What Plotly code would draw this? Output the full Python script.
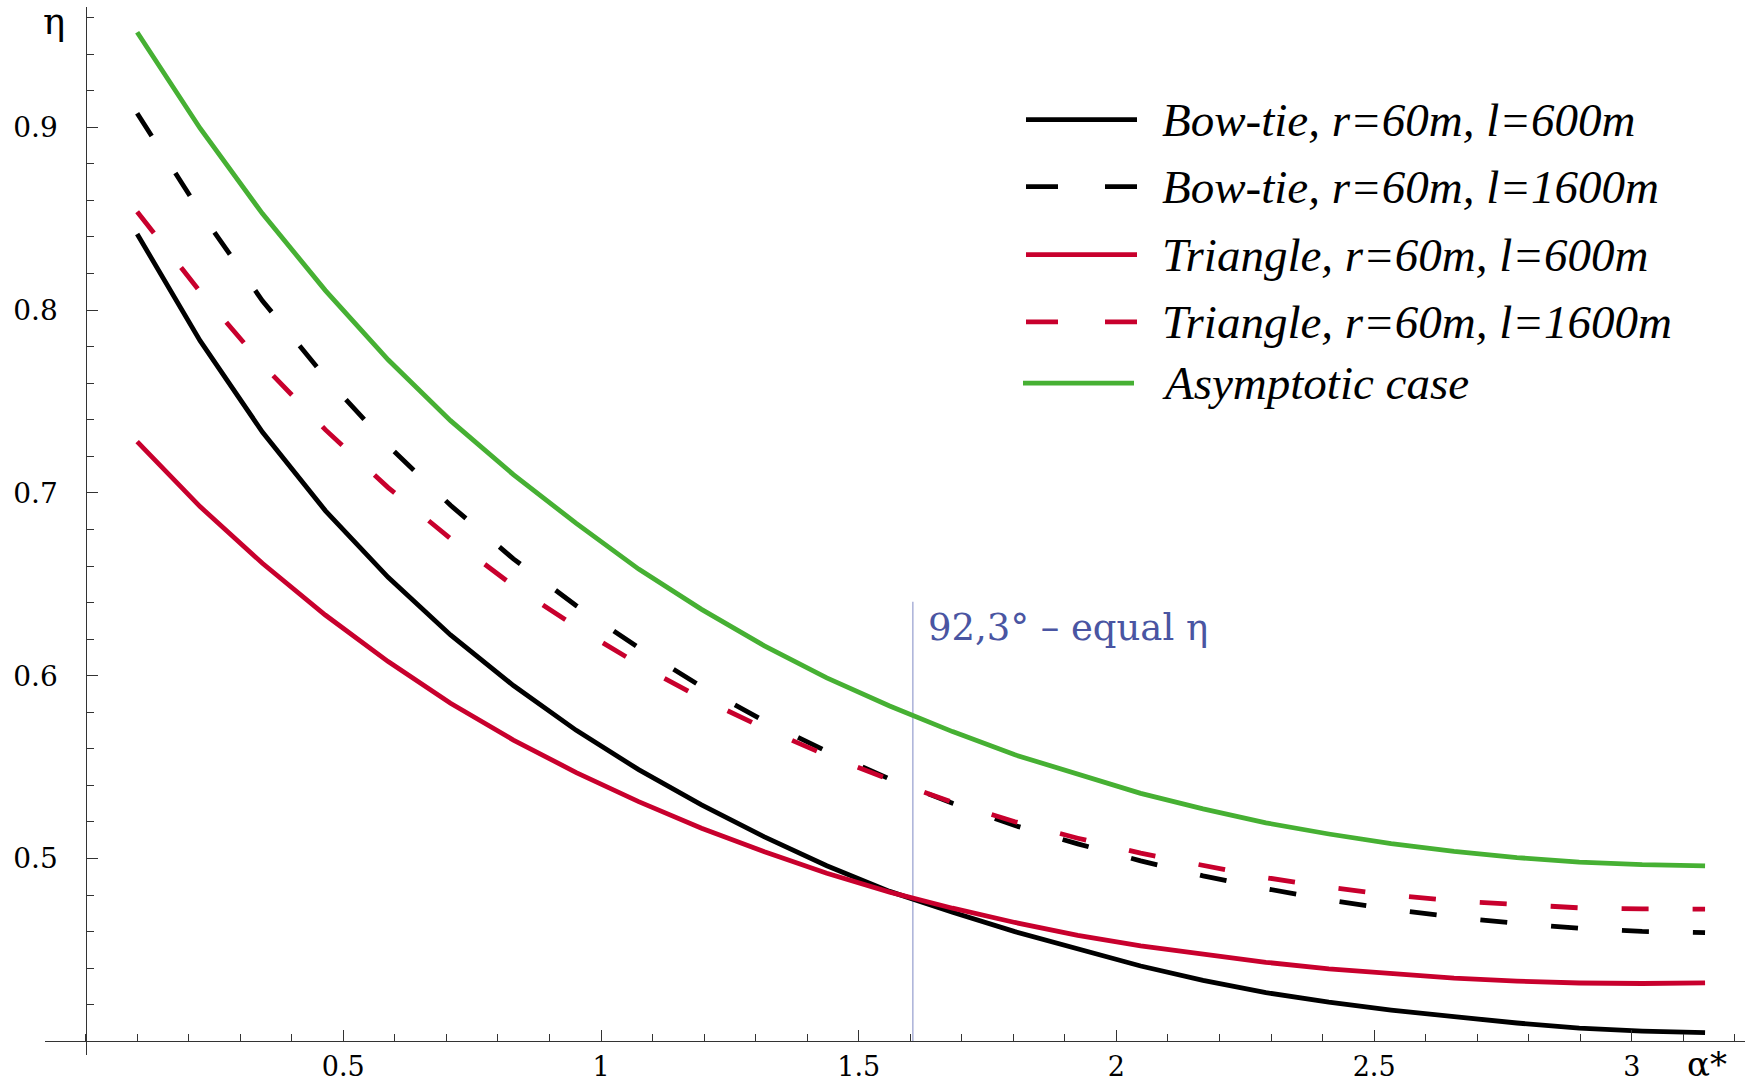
import plotly.graph_objects as go

# ---------------- data ----------------
alpha = [0.100, 0.222, 0.343, 0.465, 0.587, 0.708, 0.830, 0.952, 1.073, 1.195,
         1.317, 1.438, 1.560, 1.682, 1.803, 1.925, 2.047, 2.168, 2.290, 2.412,
         2.533, 2.655, 2.777, 2.898, 3.020, 3.142]

bowtie_600 = [0.8416, 0.7833, 0.7333, 0.6903, 0.6538, 0.6223, 0.5946, 0.5701, 0.5486, 0.5293,
              0.5118, 0.4960, 0.4820, 0.4706, 0.4600, 0.4503, 0.4412, 0.4333, 0.4266, 0.4214,
              0.4171, 0.4135, 0.4100, 0.4072, 0.4056, 0.4047]
bowtie_1600 = [0.9077, 0.8538, 0.8051, 0.7634, 0.7258, 0.6932, 0.6639, 0.6383, 0.6153, 0.5940,
               0.5752, 0.5586, 0.5435, 0.5302, 0.5180, 0.5080, 0.4987, 0.4905, 0.4835, 0.4773,
               0.4722, 0.4679, 0.4645, 0.4618, 0.4601, 0.4594]
triangle_600 = [0.7280, 0.6925, 0.6615, 0.6332, 0.6077, 0.5849, 0.5648, 0.5470, 0.5311, 0.5165,
                0.5037, 0.4919, 0.4816, 0.4728, 0.4650, 0.4580, 0.4522, 0.4475, 0.4432, 0.4396,
                0.4368, 0.4346, 0.4329, 0.4319, 0.4316, 0.4320]
triangle_1600 = [0.8538, 0.8101, 0.7703, 0.7346, 0.7029, 0.6750, 0.6492, 0.6267, 0.6062, 0.5876,
                 0.5712, 0.5564, 0.5431, 0.5307, 0.5201, 0.5111, 0.5029, 0.4959, 0.4895, 0.4843,
                 0.4800, 0.4768, 0.4747, 0.4730, 0.4724, 0.4723]
asymptotic = [0.9520, 0.8995, 0.8528, 0.8108, 0.7728, 0.7395, 0.7100, 0.6833, 0.6583, 0.6363,
              0.6163, 0.5988, 0.5834, 0.5694, 0.5567, 0.5459, 0.5356, 0.5271, 0.5195, 0.5134,
              0.5081, 0.5039, 0.5005, 0.4980, 0.4966, 0.4960]

series_names = ["Bow-tie, r=60m, l=600m", "Bow-tie, r=60m, l=1600m",
                "Triangle, r=60m, l=600m", "Triangle, r=60m, l=1600m", "Asymptotic case"]

equal_alpha = 1.605      # vertical marker position (92,3°)
equal_top = 0.6405
equal_label = "92,3° – equal η"

x_tickvals = [0.5, 1, 1.5, 2, 2.5, 3]
x_ticktext = ["0.5", "1", "1.5", "2", "2.5", "3"]
y_tickvals = [0.5, 0.6, 0.7, 0.8, 0.9]
y_ticktext = ["0.5", "0.6", "0.7", "0.8", "0.9"]

# ---------------- styling ----------------
W, H = 1752, 1085
ML, MR, MT, MB = 45, 7, 7, 30
XMIN, XMAX = -0.0788, 3.2195
YMIN, YMAX = 0.3925, 0.9658
X_CROSS, Y_CROSS = 0.0, 0.4

BLACK = "#000000"
RED = "#c8002d"
GREEN = "#46b033"
BLUE_TXT = "#4a55a2"
BLUE_LINE = "#9da5d2"
LW = 4.8
DASH = "27px,44px"
SERIF = "DejaVu Serif"
ITAL = "Liberation Serif"

styles = [(BLACK, "solid"), (BLACK, DASH), (RED, "solid"), (RED, DASH), (GREEN, "solid")]
data_series = [bowtie_600, bowtie_1600, triangle_600, triangle_1600, asymptotic]

fig = go.Figure()

# vertical "equal eta" marker
fig.add_trace(go.Scatter(x=[equal_alpha, equal_alpha], y=[Y_CROSS, equal_top], mode="lines",
                         line=dict(color=BLUE_LINE, width=1.3), showlegend=False, hoverinfo="skip"))

for name, ys, (col, dash) in zip(series_names, data_series, styles):
    fig.add_trace(go.Scatter(x=alpha, y=ys, mode="lines", name=name,
                             line=dict(color=col, width=LW, dash=dash),
                             showlegend=False))

pw = W - ML - MR
ph = H - MT - MB


def px_x(X):
    return (X - ML) / pw


def px_y(Y):
    return (H - MB - Y) / ph


# legend drawn with shapes + annotations
leg_rows = [119.6, 186.6, 254.7, 321.8, 383.2]
leg_x0 = [1026, 1026, 1026, 1026, 1023]
leg_len = 111
leg_dash = "32px,47px"
for name, (col, dash), Y, x0 in zip(series_names, styles, leg_rows, leg_x0):
    fig.add_shape(type="line", xref="paper", yref="paper",
                  x0=px_x(x0), x1=px_x(x0 + leg_len), y0=px_y(Y), y1=px_y(Y),
                  line=dict(color=col, width=LW, dash=("solid" if dash == "solid" else leg_dash)))
    fig.add_annotation(xref="paper", yref="paper", x=px_x(1160), y=px_y(Y),
                       xanchor="left", yanchor="middle", showarrow=False,
                       text="<i>" + name + "</i>",
                       font=dict(family=ITAL, size=47, color="#000000"))

# marker label
fig.add_annotation(x=equal_alpha, y=equal_top, xref="x", yref="y",
                   xshift=13, yshift=-2, xanchor="left", yanchor="top", showarrow=False,
                   text=equal_label, font=dict(family=SERIF, size=37, color=BLUE_TXT))

# axis labels
fig.add_annotation(xref="paper", yref="paper", x=px_x(54), y=px_y(21), xanchor="center",
                   yanchor="middle", showarrow=False, text="η",
                   font=dict(family=SERIF, size=37, color="#000000"))
fig.add_annotation(xref="paper", yref="paper", x=px_x(1707), y=px_y(1064), xanchor="center",
                   yanchor="middle", showarrow=False, text="α*",
                   font=dict(family=SERIF, size=34, color="#000000"))

axis_common = dict(showgrid=False, zeroline=False, showline=True, linecolor="#333333",
                   linewidth=1.4, ticks="inside", ticklen=11, tickwidth=1.4, tickcolor="#333333",
                   automargin=False, tickmode="array")

fig.update_layout(
    width=W, height=H,
    margin=dict(l=ML, r=MR, t=MT, b=MB),
    paper_bgcolor="white", plot_bgcolor="white",
    showlegend=False,
    xaxis=dict(range=[XMIN, XMAX], anchor="free",
               position=(Y_CROSS - YMIN) / (YMAX - YMIN),
               tickvals=x_tickvals, ticktext=x_ticktext,
               tickfont=dict(family=SERIF, size=27, color="#000000"),
               minor=dict(ticks="inside", ticklen=7, tickwidth=1.4, tickcolor="#333333",
                          tickmode="linear", tick0=0, dtick=0.1),
               ticklabelstandoff=1,
               **axis_common),
    yaxis=dict(range=[YMIN, YMAX], anchor="free",
               position=(X_CROSS - XMIN) / (XMAX - XMIN),
               tickvals=y_tickvals, ticktext=y_ticktext,
               tickfont=dict(family=SERIF, size=28, color="#000000"),
               minor=dict(ticks="inside", ticklen=7, tickwidth=1.4, tickcolor="#333333",
                          tickmode="linear", tick0=0.4, dtick=0.02),
               ticklabelstandoff=22,
               **axis_common),
)

fig.write_html("out.html")
